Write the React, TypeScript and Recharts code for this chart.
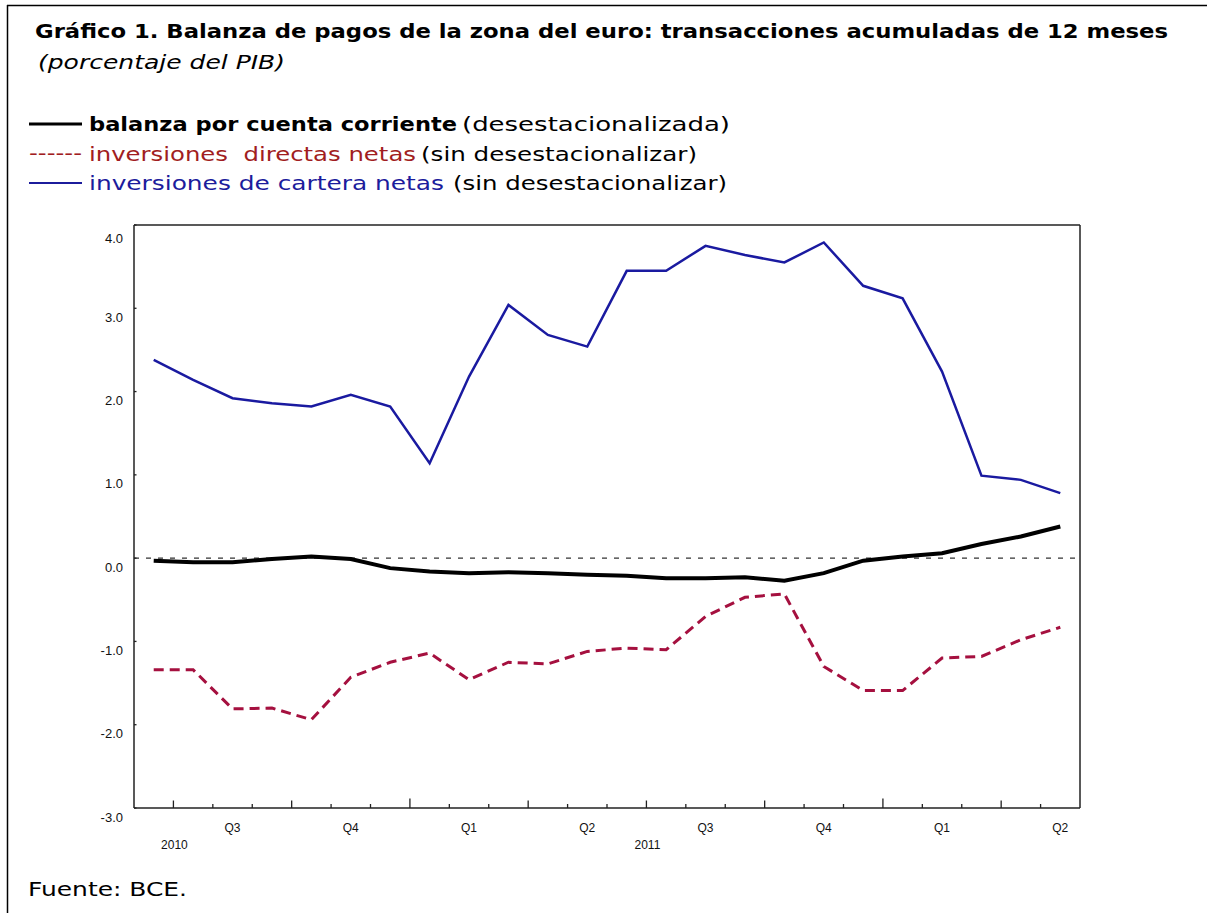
import { LineChart, Line, XAxis, YAxis, ReferenceLine } from 'recharts'

// meses (punto a mitad de mes), de junio 2010 a mayo 2012
const MONTHS = [
  'jun-10', 'jul-10', 'ago-10', 'sep-10', 'oct-10', 'nov-10', 'dic-10',
  'ene-11', 'feb-11', 'mar-11', 'abr-11', 'may-11', 'jun-11', 'jul-11', 'ago-11', 'sep-11', 'oct-11', 'nov-11', 'dic-11',
  'ene-12', 'feb-12', 'mar-12', 'abr-12', 'may-12',
]
const CUENTA_CORRIENTE = [
  -0.03, -0.05, -0.05, -0.01, 0.02, -0.01, -0.12, -0.16, -0.18, -0.17, -0.18, -0.20,
  -0.21, -0.24, -0.24, -0.23, -0.27, -0.18, -0.03, 0.02, 0.06, 0.17, 0.26, 0.38,
]
const DIRECTAS = [
  -1.34, -1.34, -1.81, -1.80, -1.94, -1.43, -1.25, -1.14, -1.46, -1.25, -1.27, -1.12,
  -1.08, -1.10, -0.70, -0.47, -0.43, -1.30, -1.59, -1.59, -1.20, -1.18, -0.98, -0.83,
]
const CARTERA = [
  2.38, 2.14, 1.92, 1.86, 1.82, 1.96, 1.82, 1.14, 2.18, 3.04, 2.68, 2.54,
  3.45, 3.45, 3.75, 3.64, 3.55, 3.79, 3.27, 3.12, 2.24, 0.99, 0.94, 0.78,
]
const Y_TICKS = [-3, -2, -1, 0, 1, 2, 3, 4]
const QUARTERS = ['Q3', 'Q4', 'Q1', 'Q2', 'Q3', 'Q4', 'Q1', 'Q2']
const YEARS = ['2010', '2011']

const data = MONTHS.map((name, i) => ({
  name,
  m: i + 0.5,
  cc: CUENTA_CORRIENTE[i],
  dir: DIRECTAS[i],
  cart: CARTERA[i],
}))

const monthTicks = Array.from({ length: MONTHS.length + 1 }, (_, i) => i)
const quarterTicks = QUARTERS.map((_, k) => 2.5 + k * 3)
const X_TICKS = [...monthTicks, ...quarterTicks]

const AXIS_FONT = '"Liberation Sans", Arial, sans-serif'
const TEXT_FONT = '"DejaVu Sans", sans-serif'

function XTick({ x, y, payload }: any) {
  const v = payload.value as number
  if (!Number.isInteger(v)) {
    const k = Math.round((v - 2.5) / 3)
    return (
      <text x={x} y={y + 24} textAnchor="middle" fontFamily={AXIS_FONT} fontSize={12} fill="#111">
        {QUARTERS[k]}
      </text>
    )
  }
  let len = 4
  if ((v - 1) % 3 === 0) len = 7.5
  if ((v - 7) % 12 === 0) len = 9.5
  const yearIdx = (v - 1) % 12 === 0 ? (v - 1) / 12 : -1
  return (
    <g>
      {v > 0 && v < MONTHS.length && (
        <line x1={x} x2={x} y1={y} y2={y - len} stroke="#222" strokeWidth={1.3} />
      )}
      {yearIdx >= 0 && YEARS[yearIdx] && (
        <text x={x + 1} y={y + 41} textAnchor="middle" fontFamily={AXIS_FONT} fontSize={12} fill="#111">
          {YEARS[yearIdx]}
        </text>
      )}
    </g>
  )
}

function YTickLeft({ x, y, payload }: any) {
  const dy = payload.value === 4 ? 18 : 13.5
  return (
    <g>
      <line x1={x + 11} x2={x + 13.5} y1={y} y2={y} stroke="#222" strokeWidth={1.3} />
      <text x={x} y={y + dy} textAnchor="end" fontFamily={AXIS_FONT} fontSize={13} fill="#111">
        {payload.value.toFixed(1)}
      </text>
    </g>
  )
}

function YTickRight({ x, y, payload }: any) {
  const dy = payload.value === 4 ? 18 : 13.5
  return (
    <g>
      <line x1={x - 12} x2={x - 14.5} y1={y} y2={y} stroke="#222" strokeWidth={1.3} />
      <text x={x} y={y + dy} textAnchor="start" fontFamily={AXIS_FONT} fontSize={13} fill="#111">
        {payload.value.toFixed(1)}
      </text>
    </g>
  )
}

// texto estirado a un ancho fijo
function T({ x, y, w, size, weight, italic, color, children }: any) {
  return (
    <text
      x={x} y={y} textLength={w} lengthAdjust="spacingAndGlyphs"
      fontFamily={TEXT_FONT} fontSize={size} fontWeight={weight ?? 'normal'}
      fontStyle={italic ? 'italic' : 'normal'} fill={color ?? '#000'}
      style={{ whiteSpace: 'pre' }}
    >
      {children}
    </text>
  )
}

export default function App() {
  return (
    <div style={{ position: 'absolute', left: 0, top: 0, width: 1207, height: 913, background: '#fff', overflow: 'hidden' }}>
      <div style={{ position: 'absolute', left: 0, top: 0 }}>
        <LineChart width={1207} height={913} data={data} margin={{ top: 225, right: 87, bottom: 75, left: 94 }}>
          <XAxis
            dataKey="m" type="number" domain={[0, 24]} ticks={X_TICKS} interval={0}
            tick={<XTick />} tickLine={false} tickSize={0} tickMargin={0} height={30}
            axisLine={{ stroke: '#222', strokeWidth: 1.5 }}
          />
          <YAxis
            yAxisId="left" domain={[-3, 4]} ticks={Y_TICKS} interval={0} width={40}
            tick={<YTickLeft />} tickLine={false} tickSize={0} tickMargin={11}
            axisLine={{ stroke: '#222', strokeWidth: 1.5 }}
          />
          <YAxis
            yAxisId="right" orientation="right" domain={[-3, 4]} ticks={Y_TICKS} interval={0} width={40}
            tick={<YTickRight />} tickLine={false} tickSize={0} tickMargin={12}
            axisLine={{ stroke: '#222', strokeWidth: 1.5 }}
          />
          <ReferenceLine yAxisId="left" y={4} stroke="#222" strokeWidth={1.5} />
          <ReferenceLine yAxisId="left" y={0} stroke="#333" strokeWidth={1.3} strokeDasharray="5 7" />
          <Line yAxisId="left" dataKey="cart" type="linear" stroke="#1a1aa0" strokeWidth={2.5} dot={false} isAnimationActive={false} />
          <Line yAxisId="left" dataKey="dir" type="linear" stroke="#a5103f" strokeWidth={3} strokeDasharray="10 6" dot={false} isAnimationActive={false} />
          <Line yAxisId="left" dataKey="cc" type="linear" stroke="#000" strokeWidth={4} dot={false} isAnimationActive={false} />
        </LineChart>
      </div>

      <svg width={1207} height={913} style={{ position: 'absolute', left: 0, top: 0, pointerEvents: 'none' }}>
        {/* marco */}
        <line x1={7} x2={1207} y1={5.5} y2={5.5} stroke="#000" strokeWidth={1.5} />
        <line x1={7.5} x2={7.5} y1={5} y2={913} stroke="#000" strokeWidth={1.5} />

        <T x={35} y={38} w={1133} size={19} weight="bold">
          Gráfico 1. Balanza de pagos de la zona del euro: transacciones acumuladas de 12 meses
        </T>
        <T x={38} y={69} w={247} size={19} italic>(porcentaje del PIB)</T>

        {/* leyenda */}
        <line x1={29} x2={82} y1={124} y2={124} stroke="#000" strokeWidth={3} />
        <T x={89} y={131} w={368} size={20} weight="bold">balanza por cuenta corriente</T>
        <T x={462} y={131} w={268} size={20}>(desestacionalizada)</T>

        <T x={29} y={160} w={53} size={20} color="#a11d21">------</T>
        <T x={89} y={161} w={327} size={20} color="#a11d21">inversiones  directas netas</T>
        <T x={421} y={161} w={276} size={20}>(sin desestacionalizar)</T>

        <line x1={29} x2={82} y1={183} y2={183} stroke="#1c1c9c" strokeWidth={2} />
        <T x={89} y={190} w={355} size={20} color="#1c1c9c">inversiones de cartera netas</T>
        <T x={453} y={190} w={274} size={20}>(sin desestacionalizar)</T>

        <T x={28} y={896} w={159} size={20}>Fuente: BCE.</T>
      </svg>
    </div>
  )
}
